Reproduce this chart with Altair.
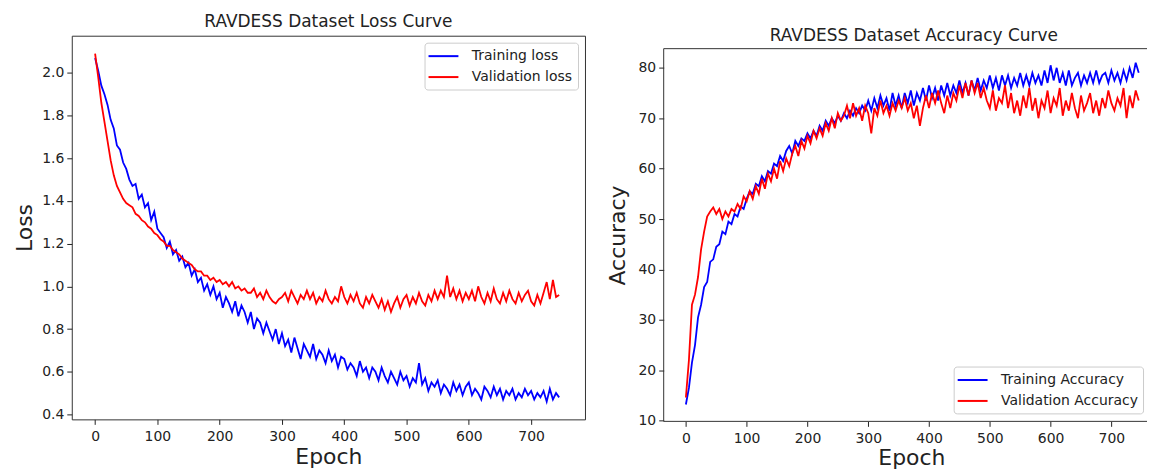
import altair as alt
import pandas as pd

# ---------------- data (every 5 epochs) ----------------
epochs = list(range(0, 750, 5))

train_loss = [
    2.07, 2.01, 1.94, 1.90, 1.85, 1.78, 1.74, 1.66, 1.64, 1.58,
    1.55, 1.50, 1.47, 1.48, 1.41, 1.43, 1.37, 1.39, 1.31, 1.35,
    1.27, 1.25, 1.23, 1.18, 1.21, 1.15, 1.17, 1.12, 1.14, 1.09,
    1.11, 1.05, 1.08, 1.02, 1.04, 0.98, 1.01, 0.96, 1.00, 0.94,
    0.97, 0.90, 0.95, 0.92, 0.88, 0.93, 0.86, 0.91, 0.88, 0.83,
    0.88, 0.80, 0.85, 0.83, 0.78, 0.83, 0.79, 0.75, 0.80, 0.73,
    0.78, 0.72, 0.75, 0.69, 0.76, 0.71, 0.66, 0.73, 0.70, 0.67,
    0.73, 0.66, 0.70, 0.68, 0.64, 0.70, 0.65, 0.68, 0.62, 0.67,
    0.66, 0.61, 0.64, 0.62, 0.58, 0.65, 0.60, 0.62, 0.57, 0.62,
    0.60, 0.56, 0.62, 0.58, 0.55, 0.60, 0.57, 0.54, 0.60, 0.56,
    0.58, 0.53, 0.57, 0.55, 0.64, 0.54, 0.57, 0.51, 0.55, 0.53,
    0.56, 0.50, 0.54, 0.52, 0.49, 0.55, 0.51, 0.54, 0.49, 0.53,
    0.55, 0.49, 0.52, 0.50, 0.47, 0.53, 0.51, 0.48, 0.53, 0.49,
    0.52, 0.47, 0.51, 0.49, 0.52, 0.47, 0.50, 0.48, 0.52, 0.49,
    0.51, 0.47, 0.50, 0.48, 0.51, 0.46, 0.52, 0.47, 0.50, 0.48,
]

val_loss = [
    2.09, 1.98, 1.86, 1.77, 1.68, 1.59, 1.52, 1.47, 1.44, 1.41,
    1.39, 1.38, 1.37, 1.34, 1.33, 1.31, 1.30, 1.28, 1.27, 1.25,
    1.24, 1.22, 1.21, 1.19, 1.19, 1.17, 1.16, 1.15, 1.13, 1.12,
    1.11, 1.10, 1.08, 1.07, 1.07, 1.05, 1.05, 1.03, 1.04, 1.02,
    1.03, 1.01, 1.02, 1.00, 1.02, 0.99, 1.00, 0.98, 0.99, 0.97,
    0.97, 0.99, 0.95, 0.97, 0.94, 0.98, 0.95, 0.93, 0.92, 0.94,
    0.95, 0.97, 0.93, 0.98, 0.95, 0.92, 0.96, 0.94, 0.98, 0.94,
    0.97, 0.92, 0.95, 0.93, 0.98, 0.94, 0.92, 0.95, 0.93, 1.00,
    0.95, 0.92, 0.96, 0.93, 0.97, 0.92, 0.90, 0.95, 0.92, 0.96,
    0.93, 0.90, 0.94, 0.89, 0.93, 0.88, 0.92, 0.95, 0.90, 0.94,
    0.96, 0.91, 0.95, 0.92, 0.97, 0.93, 0.91, 0.96, 0.93, 0.98,
    0.94, 0.98, 0.95, 1.05, 0.95, 0.99, 0.94, 0.98, 0.93, 0.97,
    0.94, 0.98, 0.93, 1.00, 0.95, 0.92, 0.97, 0.93, 0.99, 0.94,
    0.92, 0.97, 0.93, 0.98, 0.94, 0.92, 0.97, 0.93, 0.96, 0.98,
    0.93, 0.91, 0.96, 0.92, 0.97, 1.02, 0.94, 1.03, 0.95, 0.96,
]

train_acc = [
    13.2, 16.5, 21.5, 25.0, 30.5, 33.0, 36.5, 37.5, 41.5, 42.0,
    44.5, 45.0, 47.5, 47.0, 49.5, 49.0, 51.0, 50.5, 52.5, 52.0,
    54.0, 55.5, 55.0, 57.0, 56.5, 58.5, 57.5, 59.5, 59.0, 61.0,
    60.5, 62.5, 61.5, 63.5, 64.5, 63.0, 65.5, 64.5, 66.0, 65.5,
    67.0, 66.0, 67.5, 66.5, 68.5, 67.5, 69.5, 68.5, 70.0, 69.0,
    70.5, 69.5, 71.0, 70.0, 71.5, 70.5, 72.0, 71.0, 72.5, 71.5,
    73.5, 71.5, 74.0, 72.0, 74.5, 72.5, 74.0, 71.5, 75.0, 72.5,
    74.5, 72.0, 75.0, 73.0, 75.5, 72.5, 75.0, 73.5, 76.0, 73.5,
    76.5, 74.0, 76.0, 73.5, 76.5, 74.5, 77.0, 74.5, 76.5, 75.0,
    77.5, 75.0, 77.0, 74.5, 77.5, 75.5, 78.0, 75.5, 77.5, 76.0,
    78.5, 76.0, 78.0, 75.5, 78.5, 76.5, 78.5, 76.0, 78.0, 76.5,
    79.0, 76.5, 78.5, 76.5, 79.0, 77.0, 78.5, 76.5, 79.5, 77.0,
    80.5, 77.5, 80.0, 77.0, 79.0, 76.5, 79.5, 76.5, 78.0, 79.0,
    76.5, 78.5, 77.0, 79.0, 77.0, 79.5, 77.0, 78.5, 79.0, 77.0,
    79.5, 77.5, 79.0, 77.0, 79.5, 77.5, 80.0, 78.0, 81.0, 79.0,
]

val_acc = [
    14.6, 22.0, 33.0, 35.0, 38.5, 44.0, 47.5, 50.5, 51.5, 52.3,
    51.0, 52.0, 50.0, 51.5, 50.5, 52.0, 51.5, 53.0, 52.0, 54.5,
    53.5, 55.5, 54.0, 56.5, 55.0, 58.0, 56.0, 59.0, 57.5, 60.0,
    58.0, 61.5, 59.5, 62.0, 60.5, 63.0, 64.5, 62.5, 65.5, 64.0,
    66.5, 65.0, 67.5, 66.0, 68.0, 66.5, 69.0, 67.5, 70.0, 68.0,
    71.0, 69.5, 70.5, 72.5, 70.0, 73.0, 70.5, 72.0, 69.5, 72.5,
    71.0, 67.0, 72.0, 70.5, 73.5, 71.0, 72.5, 70.5, 73.0, 71.5,
    73.5, 72.0, 74.0, 71.5, 73.0, 70.0, 72.5, 68.5, 72.0, 74.5,
    72.0, 75.0, 73.0, 75.5, 73.0, 71.0, 74.5, 72.0, 75.0, 73.5,
    76.5, 74.0, 77.0, 74.5, 77.5, 75.0, 77.0, 74.0, 76.0, 73.5,
    72.0, 75.5, 71.5, 74.0, 73.0, 76.5, 72.0, 75.0, 71.0, 73.5,
    70.5, 74.5, 72.0, 76.0, 71.5, 74.0, 70.0, 73.5, 72.0, 75.5,
    71.0, 74.0, 72.5, 76.0, 70.5, 73.5, 71.5, 75.0, 72.0, 70.0,
    74.5, 71.5, 73.0, 75.0, 71.0, 73.5, 70.5, 74.0, 72.0, 75.5,
    73.0, 71.5, 74.0, 72.5, 76.0, 70.0, 74.5, 72.0, 75.5, 73.5,
]

loss_names = ["Training loss", "Validation loss"]
acc_names = ["Training Accuracy", "Validation Accuracy"]
loss_title = "RAVDESS Dataset Loss Curve"
acc_title = "RAVDESS Dataset Accuracy Curve"
x_ticks = [0, 100, 200, 300, 400, 500, 600, 700]
loss_ticks = [0.4, 0.6, 0.8, 1.0, 1.2, 1.4, 1.6, 1.8, 2.0]
acc_ticks = [10, 20, 30, 40, 50, 60, 70, 80]

assert all(len(s) == len(epochs) for s in (train_loss, val_loss, train_acc, val_acc))

FONT = "DejaVu Sans"
TXT = "#222222"
FRAME = "#333333"
COLORS = ["#0000ff", "#ff0000"]


def long_df(a, b, names):
    return pd.DataFrame({
        "epoch": epochs + epochs,
        "value": a + b,
        "series": [names[0]] * len(a) + [names[1]] * len(b),
    })


loss_df = long_df(train_loss, val_loss, loss_names)
acc_df = long_df(train_acc, val_acc, acc_names)
one = pd.DataFrame({"k": [0]})


def x_axis(title_x, title_y):
    return alt.Axis(values=x_ticks, title="Epoch", titleFont=FONT, titleFontSize=22,
                    titleFontWeight="normal", titleColor=TXT, titleBaseline="alphabetic",
                    titleAlign="center", titleX=title_x, titleY=title_y,
                    labelFont=FONT, labelFontSize=14, labelColor=TXT,
                    labelPadding=5, tickSize=5, tickColor=TXT, domain=False, grid=False,
                    labelFlush=False, labelOverlap=False)


def y_axis(title, ticks, fmt, title_x, title_y):
    return alt.Axis(values=ticks, format=fmt, title=title, titleFont=FONT, titleFontSize=22,
                    titleFontWeight="normal", titleColor=TXT, titleBaseline="alphabetic",
                    titleAlign="center", titleAngle=270, titleX=title_x, titleY=title_y,
                    labelFont=FONT, labelFontSize=14, labelColor=TXT, labelPadding=3,
                    tickSize=5, tickColor=TXT, domain=False, grid=False,
                    labelFlush=False, labelOverlap=False)


def legend(lx, ly):
    return alt.Legend(title=None, orient="none", legendX=lx, legendY=ly,
                      symbolType="M-2,0H2", symbolSize=225, symbolStrokeWidth=2,
                      symbolOffset=5.5, labelOffset=20, labelFont=FONT, labelFontSize=14,
                      labelColor=TXT, labelLimit=400, padding=5, rowPadding=5,
                      strokeColor="#cccccc", fillColor="white", cornerRadius=3)


def title_mark(text, x, y):
    return alt.Chart(one).mark_text(
        text=text, font=FONT, fontSize=17, color=TXT, baseline="alphabetic", align="center"
    ).encode(x=alt.value(x), y=alt.value(y))


# ---------------- left: loss ----------------
LW, LH = 515, 385

loss_lines = alt.Chart(loss_df).mark_line(strokeWidth=1.8).encode(
    x=alt.X("epoch:Q", scale=alt.Scale(domain=[-37.45, 786.45], nice=False, zero=False),
            axis=x_axis(LW / 2, 44)),
    y=alt.Y("value:Q", scale=alt.Scale(domain=[0.377, 2.174], nice=False, zero=False),
            axis=y_axis("Loss", loss_ticks, ".1f", -40, LH / 2)),
    color=alt.Color("series:N", scale=alt.Scale(domain=loss_names, range=COLORS),
                    legend=legend(354, 7)),
)

loss_chart = alt.layer(loss_lines, title_mark(loss_title, LW / 2, -8.6)).properties(
    width=LW, height=LH
)

# ---------------- right: accuracy ----------------
# plot area starts 13 px lower than the left one; the frame is drawn from there
RW, RH = 485, 387
TOP = 13

acc_lines = alt.Chart(acc_df).mark_line(strokeWidth=1.8).encode(
    x=alt.X("epoch:Q", scale=alt.Scale(domain=[-36.5, 758.6], nice=False, zero=False),
            axis=x_axis(248.5, 43)),
    y=alt.Y("value:Q", scale=alt.Scale(domain=[9.86, 86.37], nice=False, zero=False),
            axis=y_axis("Accuracy", acc_ticks, "d", -39, TOP + (RH - TOP) / 2)),
    color=alt.Color("series:N", scale=alt.Scale(domain=acc_names, range=COLORS),
                    legend=legend(291, 332)),
)

frame_top = alt.Chart(one).mark_rule(color=FRAME, strokeWidth=1).encode(
    x=alt.value(0), x2=alt.value(RW), y=alt.value(TOP))
frame_left = alt.Chart(one).mark_rule(color=FRAME, strokeWidth=1).encode(
    x=alt.value(0), y=alt.value(TOP), y2=alt.value(RH))
frame_bottom = alt.Chart(one).mark_rule(color=FRAME, strokeWidth=1).encode(
    x=alt.value(0), x2=alt.value(RW), y=alt.value(RH))

acc_chart = alt.layer(
    acc_lines, frame_top, frame_left, frame_bottom, title_mark(acc_title, 251, TOP - 7.3)
).properties(width=RW, height=RH, view=alt.ViewBackground(stroke="transparent"))

chart = alt.hconcat(loss_chart, acc_chart, spacing=20).resolve_scale(
    color="independent"
).properties(
    padding={"left": 5, "top": 3, "right": 0, "bottom": 0},
    background="white",
).configure_view(
    stroke=FRAME, strokeWidth=1
)

chart.save("out.html", embed_options={"renderer": "svg", "actions": False})
